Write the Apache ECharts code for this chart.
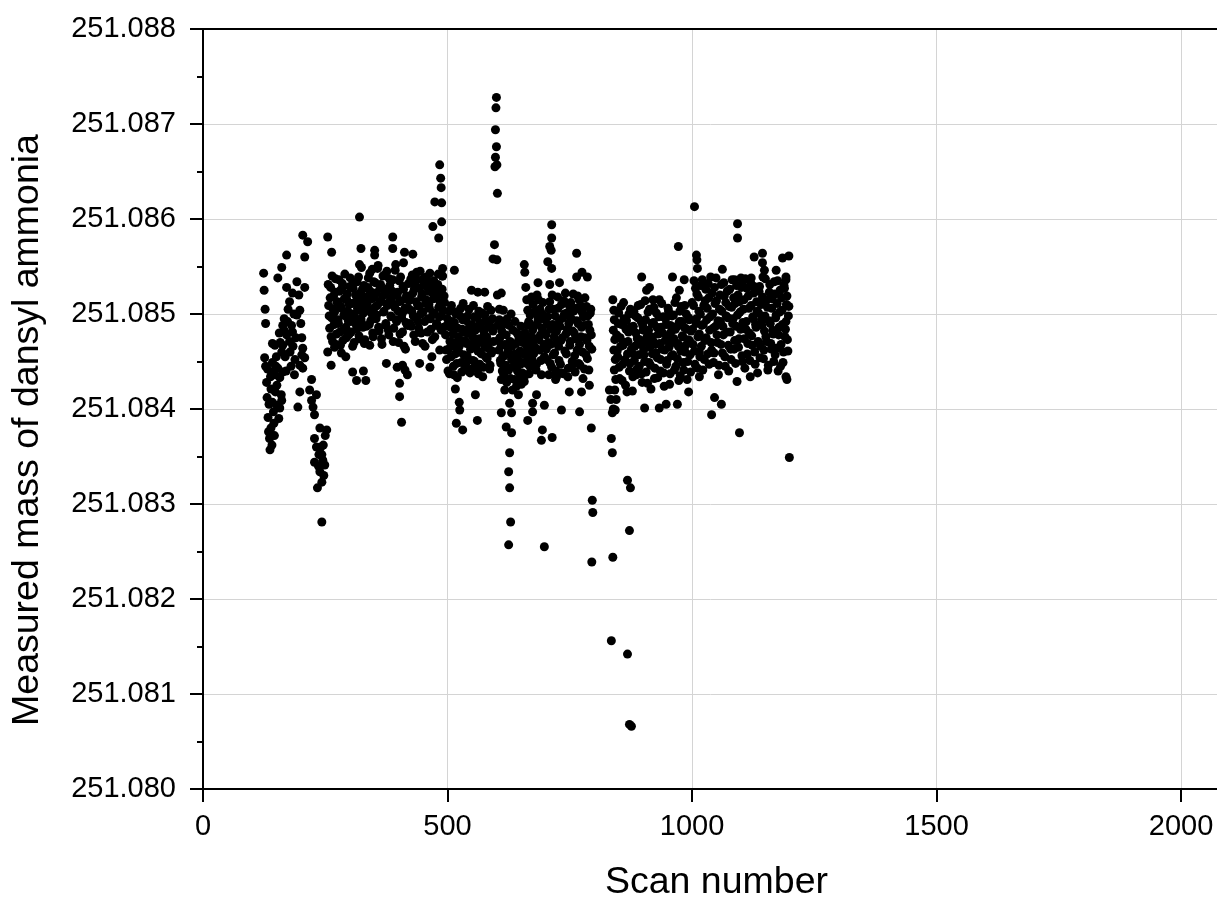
<!DOCTYPE html>
<html>
<head>
<meta charset="utf-8">
<title>Measured mass of dansyl ammonia</title>
<script src="https://cdn.jsdelivr.net/npm/echarts@6.0.0/dist/echarts.min.js"></script>
<style>
  html, body { margin: 0; padding: 0; background: #fff; }
  #chart { width: 1217px; height: 901px; }
</style>
</head>
<body>
<div id="chart"></div>
<script>
// axis ticks
const xTicks = [0, 500, 1000, 1500, 2000]
const yTicks = [251.080, 251.081, 251.082, 251.083, 251.084, 251.085, 251.086, 251.087, 251.088]

// [scan number, measured mass], one array per stretch of scans
const scans120to215 = [
  [124, 251.08543], [125, 251.08525], [127, 251.08505], [128, 251.08490], [126, 251.08454], [128, 251.08445],
  [130, 251.08428], [131, 251.08412], [133, 251.08391], [134, 251.08376], [136, 251.08369], [137, 251.08357],
  [135, 251.08405], [138, 251.08434], [142, 251.08449], [140, 251.08439], [147, 251.08436], [151, 251.08425],
  [157, 251.08433], [163, 251.08439], [153, 251.08443], [142, 251.08407], [151, 251.08404], [161, 251.08409],
  [144, 251.08397], [157, 251.08401], [139, 251.08380], [146, 251.08372], [141, 251.08362], [171, 251.08562],
  [161, 251.08549], [153, 251.08538], [171, 251.08528], [192, 251.08534], [183, 251.08522], [177, 251.08513],
  [208, 251.08528], [198, 251.08504], [192, 251.08499], [181, 251.08488], [163, 251.08488], [171, 251.08478],
  [183, 251.08481], [163, 251.08467], [177, 251.08471], [142, 251.08469], [147, 251.08467], [161, 251.08460],
  [202, 251.08475], [204, 251.08464], [208, 251.08454], [202, 251.08457], [187, 251.08436], [198, 251.08418],
  [194, 251.08402], [204, 251.08443], [198, 251.08446], [204, 251.08583], [214, 251.08576], [208, 251.08560],
  [166, 251.08495], [174, 251.08505], [186, 251.08500], [168, 251.08455], [178, 251.08460], [188, 251.08452],
  [156, 251.08480], [150, 251.08455], [170, 251.08440], [180, 251.08445], [196, 251.08520], [200, 251.08490],
  [190, 251.08475], [148, 251.08418], [155, 251.08390], [160, 251.08415], [145, 251.08385], [132, 251.08442],
  [139, 251.08421], [149, 251.08445], [158, 251.08470], [167, 251.08482], [173, 251.08492], [184, 251.08466]
]

const scans215to260 = [
  [222, 251.08431], [232, 251.08415], [222, 251.08409], [228, 251.08394], [239, 251.08380], [228, 251.08369],
  [232, 251.08360], [243, 251.08352], [249, 251.08341], [239, 251.08334], [243, 251.08323], [234, 251.08317],
  [253, 251.08378], [245, 251.08346], [228, 251.08344], [243, 251.08281], [218, 251.08420], [236, 251.08340],
  [247, 251.08330], [241, 251.08360], [250, 251.08372], [255, 251.08581], [263, 251.08565], [237, 251.08352],
  [246, 251.08362], [225, 251.08402]
]

const scans255to335 = [
  [320, 251.08602], [320, 251.08552], [323, 251.08569], [324, 251.08549], [269, 251.08465], [283, 251.08459],
  [292, 251.08455], [306, 251.08439], [314, 251.08430], [341, 251.08467], [262, 251.08446], [255, 251.08460],
  [328, 251.08440], [333, 251.08430],
  [256, 251.08531], [258, 251.08498], [260, 251.08517], [262, 251.08476], [264, 251.08540], [266, 251.08505],
  [268, 251.08489], [270, 251.08523], [272, 251.08468], [274, 251.08512], [276, 251.08494], [278, 251.08536],
  [280, 251.08481], [282, 251.08508], [284, 251.08527], [286, 251.08472], [288, 251.08499], [290, 251.08542],
  [292, 251.08486], [294, 251.08515], [296, 251.08503], [298, 251.08478], [300, 251.08529], [302, 251.08492],
  [304, 251.08511], [306, 251.08466], [308, 251.08533], [310, 251.08497], [312, 251.08520], [314, 251.08484],
  [316, 251.08506], [318, 251.08539], [320, 251.08474], [322, 251.08514], [324, 251.08491], [326, 251.08526],
  [328, 251.08501], [330, 251.08469], [332, 251.08518], [334, 251.08487],
  [257, 251.08509], [259, 251.08485], [261, 251.08528], [263, 251.08496], [265, 251.08471], [267, 251.08519],
  [269, 251.08502], [271, 251.08537], [273, 251.08479], [275, 251.08513], [277, 251.08490], [279, 251.08524],
  [281, 251.08467], [283, 251.08506], [285, 251.08532], [287, 251.08483], [289, 251.08516], [291, 251.08498],
  [293, 251.08475], [295, 251.08521], [297, 251.08493], [299, 251.08510], [301, 251.08538], [303, 251.08481],
  [305, 251.08500], [307, 251.08527], [309, 251.08470], [311, 251.08512], [313, 251.08489], [315, 251.08534],
  [317, 251.08504], [319, 251.08477], [321, 251.08522], [323, 251.08495], [325, 251.08508], [327, 251.08486],
  [329, 251.08530], [331, 251.08473], [333, 251.08515]
]

const scans335to420 = [
  [351, 251.08567], [351, 251.08562], [388, 251.08581], [388, 251.08569], [412, 251.08565], [410, 251.08554],
  [375, 251.08448], [397, 251.08444], [402, 251.08427], [402, 251.08413], [406, 251.08386], [408, 251.08446],
  [413, 251.08441], [418, 251.08436],
  [336, 251.08512], [338, 251.08538], [340, 251.08489], [342, 251.08524], [344, 251.08501], [346, 251.08547],
  [348, 251.08476], [350, 251.08518], [352, 251.08533], [354, 251.08495], [356, 251.08509], [358, 251.08551],
  [360, 251.08482], [362, 251.08527], [364, 251.08514], [366, 251.08468], [368, 251.08540], [370, 251.08503],
  [372, 251.08521], [374, 251.08490], [376, 251.08545], [378, 251.08511], [380, 251.08478], [382, 251.08530],
  [384, 251.08498], [386, 251.08517], [388, 251.08536], [390, 251.08485], [392, 251.08507], [394, 251.08552],
  [396, 251.08492], [398, 251.08523], [400, 251.08470], [402, 251.08513], [404, 251.08539], [406, 251.08496],
  [408, 251.08481], [410, 251.08526], [412, 251.08504], [414, 251.08463], [416, 251.08519], [418, 251.08488],
  [337, 251.08528], [339, 251.08505], [341, 251.08543], [343, 251.08493], [345, 251.08516], [347, 251.08480],
  [349, 251.08534], [351, 251.08507], [353, 251.08522], [355, 251.08499], [357, 251.08548], [359, 251.08486],
  [361, 251.08512], [363, 251.08531], [365, 251.08474], [367, 251.08519], [369, 251.08502], [371, 251.08541],
  [373, 251.08488], [375, 251.08526], [377, 251.08509], [379, 251.08483], [381, 251.08537], [383, 251.08515],
  [385, 251.08497], [387, 251.08524], [389, 251.08471], [391, 251.08510], [393, 251.08546], [395, 251.08494],
  [397, 251.08520], [399, 251.08503], [401, 251.08535], [403, 251.08479], [405, 251.08514], [407, 251.08500],
  [409, 251.08529], [411, 251.08466], [413, 251.08506], [415, 251.08491], [417, 251.08517]
]

const scans420to495 = [
  [429, 251.08563], [470, 251.08592], [474, 251.08618], [484, 251.08657], [486, 251.08643], [487, 251.08633],
  [488, 251.08617], [488, 251.08597], [482, 251.08580], [490, 251.08548], [489, 251.08540], [464, 251.08444],
  [468, 251.08455], [443, 251.08448],
  [420, 251.08532], [422, 251.08505], [424, 251.08519], [426, 251.08487], [428, 251.08541], [430, 251.08498],
  [432, 251.08526], [434, 251.08471], [436, 251.08513], [438, 251.08536], [440, 251.08492], [442, 251.08508],
  [444, 251.08545], [446, 251.08480], [448, 251.08521], [450, 251.08502], [452, 251.08538], [454, 251.08466],
  [456, 251.08515], [458, 251.08529], [460, 251.08495], [462, 251.08510], [464, 251.08543], [466, 251.08484],
  [468, 251.08523], [470, 251.08500], [472, 251.08535], [474, 251.08476], [476, 251.08517], [478, 251.08490],
  [480, 251.08531], [482, 251.08507], [484, 251.08462], [486, 251.08525], [488, 251.08498], [490, 251.08540],
  [492, 251.08486], [494, 251.08512],
  [421, 251.08514], [423, 251.08490], [425, 251.08537], [427, 251.08503], [429, 251.08522], [431, 251.08478],
  [433, 251.08530], [435, 251.08496], [437, 251.08544], [439, 251.08509], [441, 251.08485], [443, 251.08527],
  [445, 251.08500], [447, 251.08518], [449, 251.08469], [451, 251.08534], [453, 251.08492], [455, 251.08511],
  [457, 251.08539], [459, 251.08481], [461, 251.08524], [463, 251.08506], [465, 251.08495], [467, 251.08533],
  [469, 251.08473], [471, 251.08516], [473, 251.08501], [475, 251.08528], [477, 251.08488], [479, 251.08520],
  [481, 251.08542], [483, 251.08497], [485, 251.08512], [487, 251.08483], [489, 251.08526], [491, 251.08504],
  [493, 251.08519]
]

const scans495to595 = [
  [514, 251.08546], [549, 251.08525], [562, 251.08523], [576, 251.08523], [518, 251.08385], [531, 251.08378],
  [524, 251.08407], [525, 251.08399], [561, 251.08388], [516, 251.08421], [557, 251.08415],
  [496, 251.08478], [498, 251.08452], [500, 251.08495], [502, 251.08463], [504, 251.08437], [506, 251.08486],
  [508, 251.08509], [510, 251.08470], [512, 251.08445], [514, 251.08491], [516, 251.08458], [518, 251.08502],
  [520, 251.08433], [522, 251.08476], [524, 251.08466], [526, 251.08498], [528, 251.08449], [530, 251.08484],
  [532, 251.08511], [534, 251.08441], [536, 251.08472], [538, 251.08493], [540, 251.08456], [542, 251.08480],
  [544, 251.08505], [546, 251.08438], [548, 251.08468], [550, 251.08489], [552, 251.08451], [554, 251.08497],
  [556, 251.08474], [558, 251.08443], [560, 251.08485], [562, 251.08461], [564, 251.08503], [566, 251.08447],
  [568, 251.08490], [570, 251.08470], [572, 251.08434], [574, 251.08482], [576, 251.08499], [578, 251.08455],
  [580, 251.08476], [582, 251.08508], [584, 251.08464], [586, 251.08442], [588, 251.08487], [590, 251.08459],
  [592, 251.08495], [594, 251.08471],
  [497, 251.08462], [499, 251.08488], [501, 251.08440], [503, 251.08503], [505, 251.08471], [507, 251.08455],
  [509, 251.08492], [511, 251.08479], [513, 251.08436], [515, 251.08466], [517, 251.08500], [519, 251.08448],
  [521, 251.08485], [523, 251.08460], [525, 251.08473], [527, 251.08506], [529, 251.08439], [531, 251.08494],
  [533, 251.08457], [535, 251.08481], [537, 251.08447], [539, 251.08469], [541, 251.08498], [543, 251.08452],
  [545, 251.08487], [547, 251.08463], [549, 251.08442], [551, 251.08476], [553, 251.08509], [555, 251.08450],
  [557, 251.08483], [559, 251.08467], [561, 251.08496], [563, 251.08437], [565, 251.08474], [567, 251.08490],
  [569, 251.08458], [571, 251.08501], [573, 251.08444], [575, 251.08478], [577, 251.08465], [579, 251.08493],
  [581, 251.08453], [583, 251.08486], [585, 251.08470], [587, 251.08446], [589, 251.08504], [591, 251.08461],
  [593, 251.08482]
]

const scans595to700 = [
  [600, 251.08728], [599, 251.08717], [598, 251.08694], [600, 251.08676], [598, 251.08665], [597, 251.08655],
  [601, 251.08657], [602, 251.08627], [596, 251.08573], [593, 251.08558], [601, 251.08557], [602, 251.08520],
  [606, 251.08505], [610, 251.08522], [614, 251.08504], [657, 251.08552], [658, 251.08544], [660, 251.08528],
  [662, 251.08515], [664, 251.08504], [685, 251.08533], [610, 251.08431], [617, 251.08420], [627, 251.08406],
  [631, 251.08396], [610, 251.08396], [620, 251.08381], [631, 251.08375], [627, 251.08354], [625, 251.08334],
  [627, 251.08317], [629, 251.08281], [625, 251.08257], [664, 251.08388], [674, 251.08406], [682, 251.08415],
  [674, 251.08397], [698, 251.08404], [692, 251.08367], [694, 251.08378], [698, 251.08255],
  [603, 251.08488], [605, 251.08462], [607, 251.08475], [609, 251.08448], [611, 251.08482], [613, 251.08455],
  [615, 251.08437], [617, 251.08468], [619, 251.08446], [621, 251.08428], [623, 251.08459], [625, 251.08441],
  [627, 251.08470], [629, 251.08432], [631, 251.08452], [633, 251.08420], [635, 251.08445], [637, 251.08431],
  [639, 251.08458], [641, 251.08424], [643, 251.08440], [645, 251.08415], [647, 251.08433], [649, 251.08447],
  [651, 251.08426], [653, 251.08438], [655, 251.08458], [657, 251.08429], [659, 251.08472], [661, 251.08448],
  [663, 251.08488], [665, 251.08461], [667, 251.08437], [669, 251.08499], [671, 251.08476], [673, 251.08452],
  [675, 251.08510], [677, 251.08487], [679, 251.08465], [681, 251.08441], [683, 251.08520], [685, 251.08496],
  [687, 251.08473], [689, 251.08505], [691, 251.08451], [693, 251.08485], [695, 251.08512], [697, 251.08468],
  [699, 251.08494],
  [604, 251.08472], [606, 251.08494], [608, 251.08451], [610, 251.08467], [612, 251.08440], [614, 251.08489],
  [616, 251.08456], [618, 251.08433], [620, 251.08478], [622, 251.08495], [624, 251.08462], [626, 251.08488],
  [628, 251.08471], [630, 251.08500], [632, 251.08466], [634, 251.08483], [636, 251.08457], [638, 251.08492],
  [640, 251.08469], [642, 251.08480], [644, 251.08452], [646, 251.08475], [648, 251.08461], [650, 251.08487],
  [652, 251.08449], [654, 251.08470], [656, 251.08458], [658, 251.08480], [660, 251.08436], [662, 251.08466],
  [664, 251.08453], [666, 251.08492], [668, 251.08445], [670, 251.08470], [672, 251.08518], [674, 251.08483],
  [676, 251.08458], [678, 251.08502], [680, 251.08474], [682, 251.08447], [684, 251.08491], [686, 251.08515],
  [688, 251.08462], [690, 251.08478], [692, 251.08436], [694, 251.08500], [696, 251.08481], [698, 251.08455]
]

const scans700to800 = [
  [713, 251.08594], [713, 251.08580], [709, 251.08571], [712, 251.08567], [705, 251.08555], [713, 251.08548],
  [709, 251.08531], [729, 251.08533], [764, 251.08564], [764, 251.08539], [775, 251.08544], [786, 251.08539],
  [714, 251.08370], [723, 251.08434], [733, 251.08399], [749, 251.08418], [774, 251.08418], [770, 251.08397],
  [790, 251.08425], [794, 251.08380], [796, 251.08304], [797, 251.08291], [795, 251.08239],
  [701, 251.08478], [703, 251.08452], [705, 251.08497], [707, 251.08436], [709, 251.08513], [711, 251.08468],
  [713, 251.08444], [715, 251.08489], [717, 251.08505], [719, 251.08459], [721, 251.08431], [723, 251.08482],
  [725, 251.08518], [727, 251.08466], [729, 251.08493], [731, 251.08447], [733, 251.08510], [735, 251.08475],
  [737, 251.08437], [739, 251.08500], [741, 251.08522], [743, 251.08458], [745, 251.08484], [747, 251.08443],
  [749, 251.08509], [751, 251.08471], [753, 251.08495], [755, 251.08450], [757, 251.08521], [759, 251.08480],
  [761, 251.08439], [763, 251.08506], [765, 251.08462], [767, 251.08490], [769, 251.08515], [771, 251.08446],
  [773, 251.08476], [775, 251.08502], [777, 251.08432], [779, 251.08488], [781, 251.08517], [783, 251.08457],
  [785, 251.08472], [787, 251.08498], [789, 251.08441], [791, 251.08483], [793, 251.08505], [795, 251.08463],
  [702, 251.08463], [704, 251.08489], [706, 251.08470], [708, 251.08505], [710, 251.08448], [712, 251.08484],
  [714, 251.08520], [716, 251.08457], [718, 251.08476], [720, 251.08498], [722, 251.08440], [724, 251.08469],
  [726, 251.08506], [728, 251.08451], [730, 251.08487], [732, 251.08472], [734, 251.08438], [736, 251.08496],
  [738, 251.08514], [740, 251.08461], [742, 251.08479], [744, 251.08501], [746, 251.08434], [748, 251.08490],
  [750, 251.08467], [752, 251.08512], [754, 251.08445], [756, 251.08482], [758, 251.08503], [760, 251.08456],
  [762, 251.08474], [764, 251.08493], [766, 251.08519], [768, 251.08448], [770, 251.08468], [772, 251.08509],
  [774, 251.08486], [776, 251.08460], [778, 251.08497], [780, 251.08442], [782, 251.08475], [784, 251.08508],
  [786, 251.08453], [788, 251.08489], [790, 251.08466], [792, 251.08501], [794, 251.08478]
]

const scans830to880 = [
  [831, 251.08420], [834, 251.08410], [837, 251.08396], [839, 251.08400], [835, 251.08369], [837, 251.08354],
  [838, 251.08244], [835, 251.08156], [838, 251.08515], [840, 251.08504], [841, 251.08494], [839, 251.08483],
  [842, 251.08473], [840, 251.08462], [843, 251.08452], [841, 251.08441], [844, 251.08431], [842, 251.08420],
  [845, 251.08410], [843, 251.08399], [868, 251.08325], [874, 251.08317], [872, 251.08272], [868, 251.08142],
  [872, 251.08068], [876, 251.08066]
]

const scans845to1000 = [
  [897, 251.08539], [907, 251.08525], [913, 251.08528], [920, 251.08515], [960, 251.08539], [972, 251.08571],
  [974, 251.08525], [984, 251.08536], [903, 251.08401], [933, 251.08401], [947, 251.08405], [970, 251.08405],
  [993, 251.08418],
  [846, 251.08478], [848, 251.08455], [850, 251.08501], [852, 251.08432], [854, 251.08466], [856, 251.08489],
  [858, 251.08447], [860, 251.08512], [862, 251.08470], [864, 251.08425], [866, 251.08493], [868, 251.08458],
  [870, 251.08481], [872, 251.08440], [874, 251.08505], [876, 251.08463], [878, 251.08419], [880, 251.08487],
  [882, 251.08451], [884, 251.08498], [886, 251.08436], [888, 251.08474], [890, 251.08509], [892, 251.08445],
  [894, 251.08468], [896, 251.08492], [898, 251.08428], [900, 251.08483], [902, 251.08457], [904, 251.08514],
  [906, 251.08439], [908, 251.08476], [910, 251.08502], [912, 251.08449], [914, 251.08465], [916, 251.08421],
  [918, 251.08490], [920, 251.08472], [922, 251.08507], [924, 251.08443], [926, 251.08459], [928, 251.08486],
  [930, 251.08433], [932, 251.08497], [934, 251.08469], [936, 251.08452], [938, 251.08511], [940, 251.08480],
  [942, 251.08438], [944, 251.08462], [946, 251.08495], [948, 251.08447], [950, 251.08475], [952, 251.08503],
  [954, 251.08426], [956, 251.08488], [958, 251.08456], [960, 251.08470], [962, 251.08499], [964, 251.08441],
  [966, 251.08484], [968, 251.08517], [970, 251.08453], [972, 251.08466], [974, 251.08492], [976, 251.08435],
  [978, 251.08508], [980, 251.08477], [982, 251.08449], [984, 251.08486], [986, 251.08460], [988, 251.08500],
  [990, 251.08431], [992, 251.08473], [994, 251.08494], [996, 251.08457], [998, 251.08482],
  [847, 251.08461], [849, 251.08490], [851, 251.08444], [853, 251.08475], [855, 251.08508], [857, 251.08430],
  [859, 251.08467], [861, 251.08495], [863, 251.08452], [865, 251.08484], [867, 251.08418], [869, 251.08471],
  [871, 251.08500], [873, 251.08448], [875, 251.08486], [877, 251.08459], [879, 251.08434], [881, 251.08503],
  [883, 251.08466], [885, 251.08480], [887, 251.08442], [889, 251.08496], [891, 251.08457], [893, 251.08473],
  [895, 251.08510], [897, 251.08437], [899, 251.08488], [901, 251.08462], [903, 251.08450], [905, 251.08494],
  [907, 251.08470], [909, 251.08427], [911, 251.08483], [913, 251.08505], [915, 251.08446], [917, 251.08476],
  [919, 251.08458], [921, 251.08491], [923, 251.08432], [925, 251.08468], [927, 251.08501], [929, 251.08454],
  [931, 251.08479], [933, 251.08515], [935, 251.08440], [937, 251.08486], [939, 251.08463], [941, 251.08497],
  [943, 251.08424], [945, 251.08472], [947, 251.08489], [949, 251.08451], [951, 251.08506], [953, 251.08465],
  [955, 251.08437], [957, 251.08481], [959, 251.08498], [961, 251.08457], [963, 251.08474], [965, 251.08512],
  [967, 251.08445], [969, 251.08487], [971, 251.08469], [973, 251.08430], [975, 251.08503], [977, 251.08461],
  [979, 251.08492], [981, 251.08476], [983, 251.08441], [985, 251.08509], [987, 251.08467], [989, 251.08484],
  [991, 251.08450], [993, 251.08496], [995, 251.08472], [997, 251.08439]
]

const scans1000to1200 = [
  [1005, 251.08613], [1009, 251.08562], [1010, 251.08557], [1011, 251.08548], [1062, 251.08547], [1093, 251.08595],
  [1093, 251.08580], [1127, 251.08560], [1144, 251.08564], [1185, 251.08559], [1198, 251.08561], [1144, 251.08554],
  [1148, 251.08546], [1172, 251.08546], [1192, 251.08539], [1192, 251.08536], [1087, 251.08536], [1103, 251.08533],
  [1121, 251.08538], [1015, 251.08434], [1015, 251.08460], [1040, 251.08394], [1046, 251.08412], [1060, 251.08405],
  [1097, 251.08375], [1199, 251.08349], [1192, 251.08434], [1194, 251.08431],
  [1000, 251.08512], [1002, 251.08468], [1004, 251.08535], [1006, 251.08447], [1008, 251.08490], [1010, 251.08521],
  [1012, 251.08476], [1014, 251.08503], [1016, 251.08455], [1018, 251.08530], [1020, 251.08488], [1022, 251.08441],
  [1024, 251.08509], [1026, 251.08472], [1028, 251.08526], [1030, 251.08494], [1032, 251.08458], [1034, 251.08517],
  [1036, 251.08483], [1038, 251.08539], [1040, 251.08462], [1042, 251.08500], [1044, 251.08449], [1046, 251.08528],
  [1048, 251.08487], [1050, 251.08514], [1052, 251.08470], [1054, 251.08436], [1056, 251.08505], [1058, 251.08492],
  [1060, 251.08531], [1062, 251.08459], [1064, 251.08478], [1066, 251.08519], [1068, 251.08445], [1070, 251.08498],
  [1072, 251.08524], [1074, 251.08467], [1076, 251.08508], [1078, 251.08481], [1080, 251.08452], [1082, 251.08536],
  [1084, 251.08495], [1086, 251.08463], [1088, 251.08511], [1090, 251.08487], [1092, 251.08429], [1094, 251.08520],
  [1096, 251.08474], [1098, 251.08502], [1100, 251.08538], [1102, 251.08456], [1104, 251.08491], [1106, 251.08515],
  [1108, 251.08443], [1110, 251.08484], [1112, 251.08527], [1114, 251.08469], [1116, 251.08506], [1118, 251.08451],
  [1120, 251.08533], [1122, 251.08477], [1124, 251.08497], [1126, 251.08522], [1128, 251.08460], [1130, 251.08489],
  [1132, 251.08513], [1134, 251.08438], [1136, 251.08501], [1138, 251.08529], [1140, 251.08466], [1142, 251.08494],
  [1144, 251.08518], [1146, 251.08453], [1148, 251.08482], [1150, 251.08537], [1152, 251.08471], [1154, 251.08507],
  [1156, 251.08446], [1158, 251.08523], [1160, 251.08490], [1162, 251.08463], [1164, 251.08516], [1166, 251.08479],
  [1168, 251.08534], [1170, 251.08457], [1172, 251.08499], [1174, 251.08511], [1176, 251.08440], [1178, 251.08486],
  [1180, 251.08525], [1182, 251.08468], [1184, 251.08504], [1186, 251.08449], [1188, 251.08530], [1190, 251.08476],
  [1192, 251.08492], [1194, 251.08519], [1196, 251.08461], [1198, 251.08508],
  [1001, 251.08484], [1003, 251.08509], [1005, 251.08461], [1007, 251.08527], [1009, 251.08495], [1011, 251.08443],
  [1013, 251.08518], [1015, 251.08479], [1017, 251.08500], [1019, 251.08466], [1021, 251.08536], [1023, 251.08489],
  [1025, 251.08452], [1027, 251.08514], [1029, 251.08475], [1031, 251.08506], [1033, 251.08532], [1035, 251.08447],
  [1037, 251.08497], [1039, 251.08470], [1041, 251.08522], [1043, 251.08485], [1045, 251.08459], [1047, 251.08511],
  [1049, 251.08538], [1051, 251.08478], [1053, 251.08493], [1055, 251.08446], [1057, 251.08520], [1059, 251.08468],
  [1061, 251.08503], [1063, 251.08487], [1065, 251.08533], [1067, 251.08455], [1069, 251.08512], [1071, 251.08481],
  [1073, 251.08496], [1075, 251.08440], [1077, 251.08526], [1079, 251.08463], [1081, 251.08507], [1083, 251.08490],
  [1085, 251.08517], [1087, 251.08472], [1089, 251.08448], [1091, 251.08530], [1093, 251.08499], [1095, 251.08465],
  [1097, 251.08513], [1099, 251.08484], [1101, 251.08528], [1103, 251.08450], [1105, 251.08505], [1107, 251.08474],
  [1109, 251.08537], [1111, 251.08492], [1113, 251.08458], [1115, 251.08519], [1117, 251.08480], [1119, 251.08434],
  [1121, 251.08509], [1123, 251.08467], [1125, 251.08495], [1127, 251.08529], [1129, 251.08447], [1131, 251.08486],
  [1133, 251.08503], [1135, 251.08471], [1137, 251.08524], [1139, 251.08454], [1141, 251.08510], [1143, 251.08488],
  [1145, 251.08539], [1147, 251.08462], [1149, 251.08498], [1151, 251.08476], [1153, 251.08515], [1155, 251.08441],
  [1157, 251.08493], [1159, 251.08531], [1161, 251.08469], [1163, 251.08506], [1165, 251.08483], [1167, 251.08450],
  [1169, 251.08521], [1171, 251.08496], [1173, 251.08464], [1175, 251.08535], [1177, 251.08478], [1179, 251.08502],
  [1181, 251.08445], [1183, 251.08517], [1185, 251.08489], [1187, 251.08460], [1189, 251.08527], [1191, 251.08484],
  [1193, 251.08510], [1195, 251.08473], [1197, 251.08498]
]

const allPoints = [].concat(
  scans120to215, scans215to260, scans255to335, scans335to420, scans420to495,
  scans495to595, scans595to700, scans700to800, scans830to880, scans845to1000, scans1000to1200
)

const chart = echarts.init(document.getElementById('chart'), null, { renderer: 'canvas' })

const labelFont = 'Liberation Sans, Arial, sans-serif'

const option = {
  backgroundColor: '#fff',
  animation: false,
  grid: {
    left: 203,
    top: 29,
    width: 1027,   // plot box runs a little past the right edge of the picture
    height: 760,
    outerBoundsMode: 'none',
    containLabel: false
  },
  xAxis: [
    {
      type: 'value',
      min: 0,
      max: 2100,
      interval: 500,
      name: 'Scan number',
      nameLocation: 'middle',
      nameGap: 75,
      nameTextStyle: { fontSize: 37.5, color: '#000', fontFamily: labelFont },
      axisLine: { show: true, onZero: false, lineStyle: { color: '#000', width: 2 } },
      axisTick: { show: true, inside: false, length: 13, lineStyle: { color: '#000', width: 2 } },
      axisLabel: {
        fontSize: 29, color: '#000', fontFamily: labelFont, margin: 23,
        showMaxLabel: false,
        formatter: (v) => (xTicks.includes(v) ? String(v) : '')
      },
      splitLine: { show: true, lineStyle: { color: '#d4d4d4', width: 1 } }
    },
    {
      // top frame line only
      type: 'value',
      position: 'top',
      min: 0,
      max: 2100,
      axisLine: { show: true, lineStyle: { color: '#000', width: 2 } },
      axisTick: { show: false },
      axisLabel: { show: false },
      splitLine: { show: false }
    }
  ],
  yAxis: {
    type: 'value',
    min: yTicks[0],
    max: yTicks[yTicks.length - 1],
    interval: 0.001,
    name: 'Measured mass of dansyl ammonia',
    nameLocation: 'middle',
    nameGap: 156,
    nameTextStyle: { fontSize: 37.5, color: '#000', fontFamily: labelFont, padding: [0, 42, 0, 0] },
    axisLine: { show: true, onZero: false, lineStyle: { color: '#000', width: 2 } },
    axisTick: { show: true, inside: false, length: 13, lineStyle: { color: '#000', width: 2 } },
    minorTick: { show: true, splitNumber: 2, length: 6, lineStyle: { color: '#000', width: 2 } },
    axisLabel: {
      fontSize: 29, color: '#000', fontFamily: labelFont, margin: 27,
      formatter: (v) => v.toFixed(3)
    },
    splitLine: { show: true, lineStyle: { color: '#d4d4d4', width: 1 } }
  },
  series: [
    {
      type: 'scatter',
      xAxisIndex: 0,
      symbol: 'circle',
      symbolSize: 9,
      itemStyle: { color: '#000', opacity: 1 },
      data: allPoints
    }
  ]
}

chart.setOption(option)
</script>
</body>
</html>
